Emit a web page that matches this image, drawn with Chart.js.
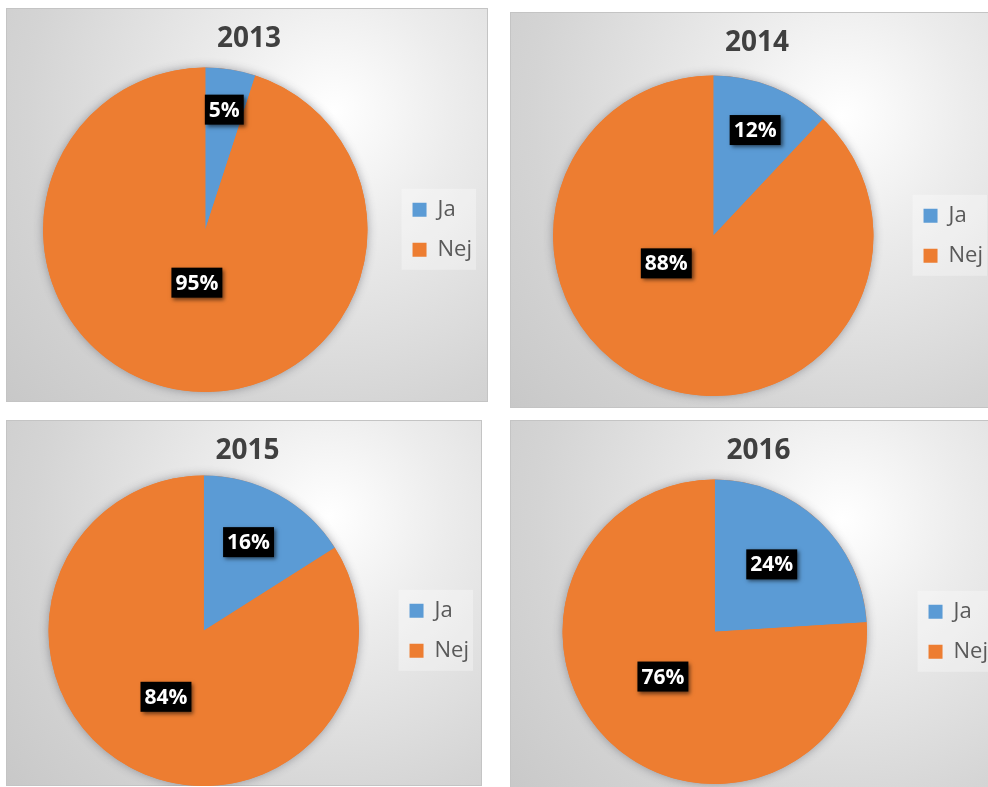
<!DOCTYPE html>
<html>
<head>
<meta charset="utf-8">
<script src="https://cdn.jsdelivr.net/npm/chart.js@4.4.1/dist/chart.umd.min.js"></script>
<style>
  html, body { margin: 0; padding: 0; background: #fff; width: 988px; height: 787px; overflow: hidden; }
  .panel {
    position: absolute;
    box-sizing: border-box;
    border: 1px solid #c4c4c4;
    background: radial-gradient(circle farthest-corner at 68% 26%, #ffffff 0%, #ececec 28%, #d4d4d4 70%, #c8c8c8 100%);
  }
  .panel canvas { position: absolute; left: -1px; top: -1px; }
</style>
</head>
<body>
<div class="panel" id="p0"><canvas id="c0"></canvas></div>
<div class="panel" id="p1"><canvas id="c1"></canvas></div>
<div class="panel" id="p2"><canvas id="c2"></canvas></div>
<div class="panel" id="p3"><canvas id="c3"></canvas></div>
<script>
// data
const years = ['2013', '2014', '2015', '2016'];
const categories = ['Ja', 'Nej'];
const jaValues = [5, 12, 16, 24];
const nejValues = [95, 88, 84, 76];

const colors = ['#5b9bd5', '#ed7d31'];

// where each panel sits and how its chart is padded (page pixels)
const panels = [
  { left: 6,   top: 8,   width: 482, height: 394, pad: { left: 10, right: 6, top: 0, bottom: 10 }, titlePad: { top: 14, bottom: 12 } },
  { left: 510, top: 12,  width: 490, height: 396, pad: { left: 11, right: 7, top: 0, bottom: 12 }, titlePad: { top: 14, bottom: 16 } },
  { left: 6,   top: 420, width: 476, height: 366, pad: { left: 10, right: 3, top: 0, bottom: 0 },  titlePad: { top: 14, bottom: 8 } },
  { left: 510, top: 420, width: 490, height: 380, pad: { left: 9,  right: 2, top: 0, bottom: 16 }, titlePad: { top: 14, bottom: 12 } }
];

// label spot per slice: [fraction of radius, degrees turned from mid-angle]
const labelSpots = [
  [[0.75, 0], [0.33, 0]],
  [[0.71, 0], [0.34, 38]],
  [[0.64, -2], [0.49, 1]],
  [[0.58, -3], [0.45, 6]]
];

const pieShadow = {
  id: 'pieShadow',
  beforeDatasetsDraw(chart) {
    const arc = chart.getDatasetMeta(0).data[0];
    if (!arc) return;
    const { x, y, outerRadius } = arc.getProps(['x', 'y', 'outerRadius'], true);
    const ctx = chart.ctx;
    ctx.save();
    ctx.shadowColor = 'rgba(60,60,70,0.45)';
    ctx.shadowBlur = 10;
    ctx.beginPath();
    ctx.arc(x, y, outerRadius, 0, Math.PI * 2);
    ctx.fillStyle = colors[1];
    ctx.fill();
    ctx.restore();
  }
};

const legendBox = {
  id: 'legendBox',
  beforeDraw(chart) {
    const boxes = chart.legend && chart.legend.legendHitBoxes;
    if (!boxes || !boxes.length) return;
    const first = boxes[0], last = boxes[boxes.length - 1];
    const right = Math.max(...boxes.map(b => b.left + b.width));
    const ctx = chart.ctx;
    ctx.save();
    ctx.fillStyle = 'rgba(255,255,255,0.32)';
    ctx.fillRect(first.left - 11, first.top - 10, right - first.left + 15, last.top + last.height + 9 - (first.top - 10));
    ctx.restore();
  }
};

const pctLabels = {
  id: 'pctLabels',
  afterDatasetsDraw(chart, args, opts) {
    const ctx = chart.ctx;
    const meta = chart.getDatasetMeta(0);
    const values = chart.data.datasets[0].data;
    ctx.save();
    ctx.font = 'bold 21px "Open Sans"';
    ctx.textAlign = 'center';
    ctx.textBaseline = 'middle';
    meta.data.forEach((arc, i) => {
      const p = arc.getProps(['x', 'y', 'startAngle', 'endAngle', 'outerRadius'], true);
      const spot = opts.spots[i];
      const mid = (p.startAngle + p.endAngle) / 2 + spot[1] * Math.PI / 180;
      const cx = p.x + Math.cos(mid) * p.outerRadius * spot[0];
      const cy = p.y + Math.sin(mid) * p.outerRadius * spot[0];
      const text = values[i] + '%';
      const w = ctx.measureText(text).width + 8;
      const h = 30;
      ctx.shadowColor = 'rgba(0,0,0,0.55)';
      ctx.shadowBlur = 4;
      ctx.shadowOffsetX = 2;
      ctx.shadowOffsetY = 2;
      ctx.fillStyle = '#000';
      ctx.fillRect(cx - w / 2, cy - h / 2, w, h);
      ctx.shadowColor = 'transparent';
      ctx.fillStyle = '#fff';
      ctx.fillText(text, cx, cy + 1);
    });
    ctx.restore();
  }
};

function makePie(canvas, panel, title, values, spots) {
  return new Chart(canvas, {
    type: 'pie',
    data: {
      labels: categories,
      datasets: [{ data: values, backgroundColor: colors, borderWidth: 0 }]
    },
    options: {
      responsive: false,
      animation: false,
      devicePixelRatio: 1,
      layout: { padding: panel.pad },
      plugins: {
        title: {
          display: true, text: title, color: '#404040',
          font: { family: '"Open Sans"', size: 28, weight: 'bold' },
          padding: panel.titlePad
        },
        legend: {
          position: 'right',
          fullSize: false,
          labels: {
            boxWidth: 14, boxHeight: 14, padding: 18, color: '#595959',
            font: { family: '"Open Sans"', size: 22 }
          }
        },
        tooltip: { enabled: false },
        pctLabels: { spots }
      }
    },
    plugins: [legendBox, pieShadow, pctLabels]
  });
}

panels.forEach((panel, i) => {
  const div = document.getElementById('p' + i);
  div.style.left = panel.left + 'px';
  div.style.top = panel.top + 'px';
  div.style.width = panel.width + 'px';
  div.style.height = panel.height + 'px';
  const canvas = document.getElementById('c' + i);
  canvas.width = panel.width;
  canvas.height = panel.height;
  makePie(canvas, panel, years[i], [jaValues[i], nejValues[i]], labelSpots[i]);
});
</script>
</body>
</html>
